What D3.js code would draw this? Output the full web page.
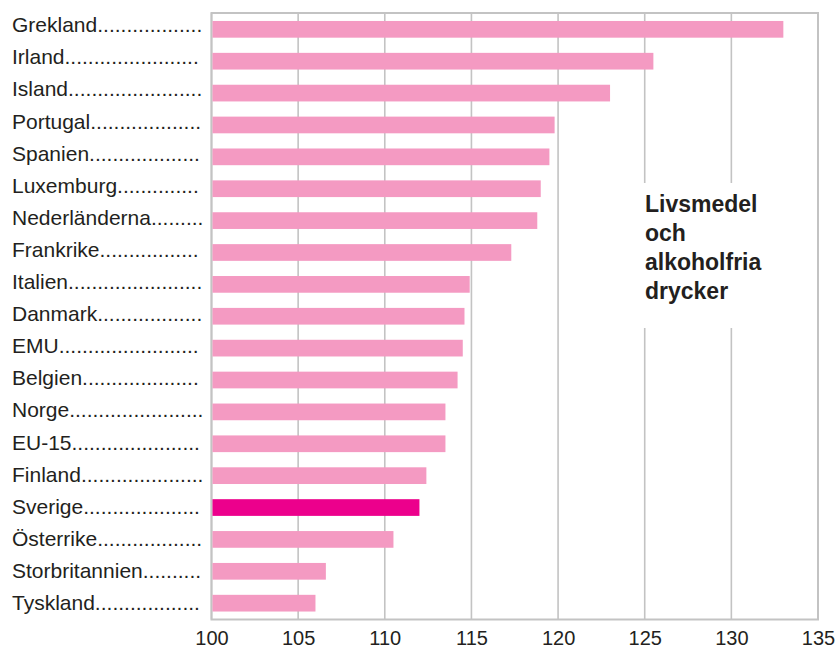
<!DOCTYPE html>
<html>
<head>
<meta charset="utf-8">
<script src="https://cdn.jsdelivr.net/npm/d3@7"></script>
<style>
  html, body { margin: 0; padding: 0; background: #fff; }
  svg { display: block; }
  text { font-family: "Liberation Sans", Arial, Helvetica, sans-serif; fill: #231f20; }
</style>
</head>
<body>
<svg id="chart" width="836" height="648"></svg>
<script>
// Price level index, food and non-alcoholic beverages (EU-15 comparison)
const countries = ["Grekland", "Irland", "Island", "Portugal", "Spanien", "Luxemburg",
  "Nederländerna", "Frankrike", "Italien", "Danmark", "EMU", "Belgien", "Norge",
  "EU-15", "Finland", "Sverige", "Österrike", "Storbritannien", "Tyskland"];
const values = [133.0, 125.5, 123.0, 119.8, 119.5, 119.0, 118.8, 117.3, 114.9, 114.6,
  114.5, 114.2, 113.5, 113.5, 112.4, 112.0, 110.5, 106.6, 106.0];
const highlighted = ["Sverige"];
const xTicks = [100, 105, 110, 115, 120, 125, 130, 135];
const titleLines = ["Livsmedel", "och", "alkoholfria", "drycker"];

const svg = d3.select("#chart");
const plot = { left: 211.5, right: 818, top: 13, bottom: 619.5 };
const gridColor = "#c3c3c3";

const x = d3.scaleLinear().domain([100, 135]).range([plot.left, plot.right]);
const y = d3.scaleBand().domain(countries).range([plot.top, plot.bottom])
  .paddingInner(0.476).paddingOuter(0.25);
// label rows sit slightly above the bar centres, drifting toward them downward
const yLabel = d3.scalePoint().domain(countries).range([24.7, 602.5]);

// vertical gridlines
svg.append("g").selectAll("line").data(xTicks).join("line")
  .attr("x1", d => x(d)).attr("x2", d => x(d))
  .attr("y1", plot.top).attr("y2", plot.bottom)
  .attr("stroke", gridColor).attr("stroke-width", 1.6);

// frame
svg.append("rect")
  .attr("x", plot.left).attr("y", plot.top)
  .attr("width", plot.right - plot.left).attr("height", plot.bottom - plot.top)
  .attr("fill", "none").attr("stroke", gridColor).attr("stroke-width", 2);

// bars
svg.append("g").selectAll("rect").data(countries).join("rect")
  .attr("x", x(100) + 1)
  .attr("y", d => y(d))
  .attr("width", (d, i) => x(values[i]) - x(100) - 1)
  .attr("height", y.bandwidth())
  .attr("fill", d => highlighted.includes(d) ? "#ec008c" : "#f49ac2");

// category labels with leader dots
const labels = svg.append("g").selectAll("text").data(countries).join("text")
  .attr("x", 12)
  .attr("y", d => yLabel(d))
  .attr("dy", "0.36em")
  .attr("font-size", 21)
  .text(d => d);
labels.each(function (d) {
  const el = d3.select(this);
  let s = d;
  el.text(s + ".");
  while (this.getComputedTextLength() <= 192) {
    s += ".";
    el.text(s + ".");
  }
  el.text(s);
});

// x axis tick labels
const xAxis = d3.axisBottom(x).tickValues(xTicks).tickSize(0).tickPadding(0);
const ax = svg.append("g").attr("transform", `translate(0,${plot.bottom})`).call(xAxis);
ax.select(".domain").remove();
ax.selectAll("text")
  .attr("y", 25.5)
  .attr("dy", 0)
  .attr("font-size", 20)
  .attr("fill", "#231f20")
  .style("font-family", "'Liberation Sans', Arial, Helvetica, sans-serif");

// title block over the grid
svg.append("rect")
  .attr("x", 638).attr("y", 183)
  .attr("width", 135).attr("height", 145)
  .attr("fill", "#fff");
svg.append("g").selectAll("text").data(titleLines).join("text")
  .attr("x", 645)
  .attr("y", (d, i) => 212 + i * 29)
  .attr("font-size", 23)
  .attr("font-weight", "bold")
  .text(d => d);
</script>
</body>
</html>
